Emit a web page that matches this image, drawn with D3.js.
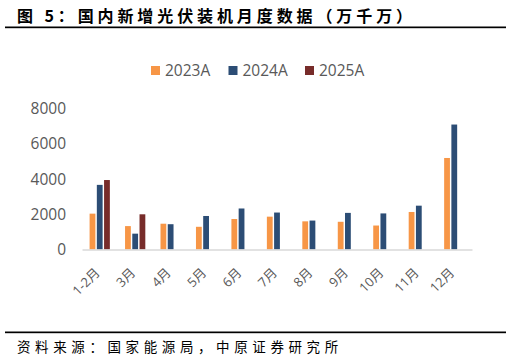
<!DOCTYPE html>
<html>
<head>
<meta charset="utf-8">
<script src="https://cdn.jsdelivr.net/npm/d3@7"></script>
<style>
  body { margin: 0; background: #fff; }
  svg { display: block; }
  .title { font-family: "Noto Sans CJK SC", sans-serif; font-weight: bold; font-size: 16px; letter-spacing: 3.9px; fill: #000; }
  .source { font-family: "Noto Sans CJK SC", sans-serif; font-size: 13.5px; letter-spacing: 4.6px; fill: #000; }
  .axis text { font-family: "Open Sans", "Noto Sans CJK SC", sans-serif; fill: #595959; }
  .legend text { font-family: "Open Sans", sans-serif; font-size: 15.5px; fill: #595959; }
</style>
</head>
<body>
<svg width="511" height="361"></svg>
<script>
const months = ["1-2月", "3月", "4月", "5月", "6月", "7月", "8月", "9月", "10月", "11月", "12月"];
const seriesNames = ["2023A", "2024A", "2025A"];
const seriesColors = ["#F79646", "#2C4D75", "#772C2A"];
const values2023 = [2037, 1330, 1465, 1290, 1731, 1866, 1600, 1575, 1362, 2132, 5200];
const values2024 = [3672, 900, 1437, 1904, 2330, 2100, 1644, 2080, 2050, 2490, 7100];
const values2025 = [3947, 2000, null, null, null, null, null, null, null, null, null];
const yTicks = [0, 2000, 4000, 6000, 8000];

const svg = d3.select("svg");
const allSeries = [values2023, values2024, values2025];

// Title and rules
svg.append("text").attr("class", "title").attr("x", 17).attr("y", 22)
  .text("图 5：国内新增光伏装机月度数据（万千万）");
svg.append("rect").attr("x", 5).attr("y", 26.5).attr("width", 501).attr("height", 1.7).attr("fill", "#000");
svg.append("rect").attr("x", 5).attr("y", 331.5).attr("width", 501).attr("height", 1.7).attr("fill", "#000");
svg.append("text").attr("class", "source").attr("x", 17).attr("y", 352)
  .text("资料来源：国家能源局，中原证券研究所");

// Scales
const xScale = d3.scaleBand().domain(months).range([82, 472]);
const inner = d3.scaleBand().domain(seriesNames).range([0, xScale.bandwidth()])
  .paddingInner(0.2).paddingOuter(1.05);
const yScale = d3.scaleLinear().domain([0, 8000]).range([249.5, 108.7]);

// Y axis (labels only)
const yAxis = svg.append("g").attr("class", "axis")
  .attr("transform", "translate(66,0)")
  .call(d3.axisLeft(yScale).tickValues(yTicks).tickFormat(d3.format("d")).tickSize(0).tickPadding(0));
yAxis.select(".domain").remove();
yAxis.selectAll("text").style("font-size", "15.5px");

// Bars
allSeries.forEach(function (vals, si) {
  svg.append("g")
    .selectAll("rect")
    .data(vals.map(function (v, i) { return { m: months[i], v: v }; }).filter(function (d) { return d.v != null; }))
    .enter()
    .append("rect")
    .attr("x", function (d) { return xScale(d.m) + inner(seriesNames[si]); })
    .attr("y", function (d) { return yScale(d.v); })
    .attr("width", inner.bandwidth())
    .attr("height", function (d) { return yScale(0) - yScale(d.v); })
    .attr("fill", seriesColors[si]);
});

// X axis
const xAxis = svg.append("g").attr("class", "axis")
  .attr("transform", "translate(0," + yScale(0) + ")")
  .call(d3.axisBottom(xScale).tickSize(0).tickSizeOuter(0));
xAxis.select(".domain").attr("stroke", "#D9D9D9").attr("stroke-width", 1.5);
xAxis.selectAll("text")
  .style("font-size", "13px")
  .attr("text-anchor", "end")
  .attr("dy", 0)
  .attr("y", 0)
  .attr("transform", "translate(1,24) rotate(-45)");

// Legend
const legendX = [151, 228.5, 305];
const legend = svg.append("g").attr("class", "legend");
seriesNames.forEach(function (name, i) {
  legend.append("rect").attr("x", legendX[i]).attr("y", 66).attr("width", 9).attr("height", 9)
    .attr("fill", seriesColors[i]);
  legend.append("text").attr("x", legendX[i] + 14).attr("y", 76).text(name);
});
</script>
</body>
</html>
